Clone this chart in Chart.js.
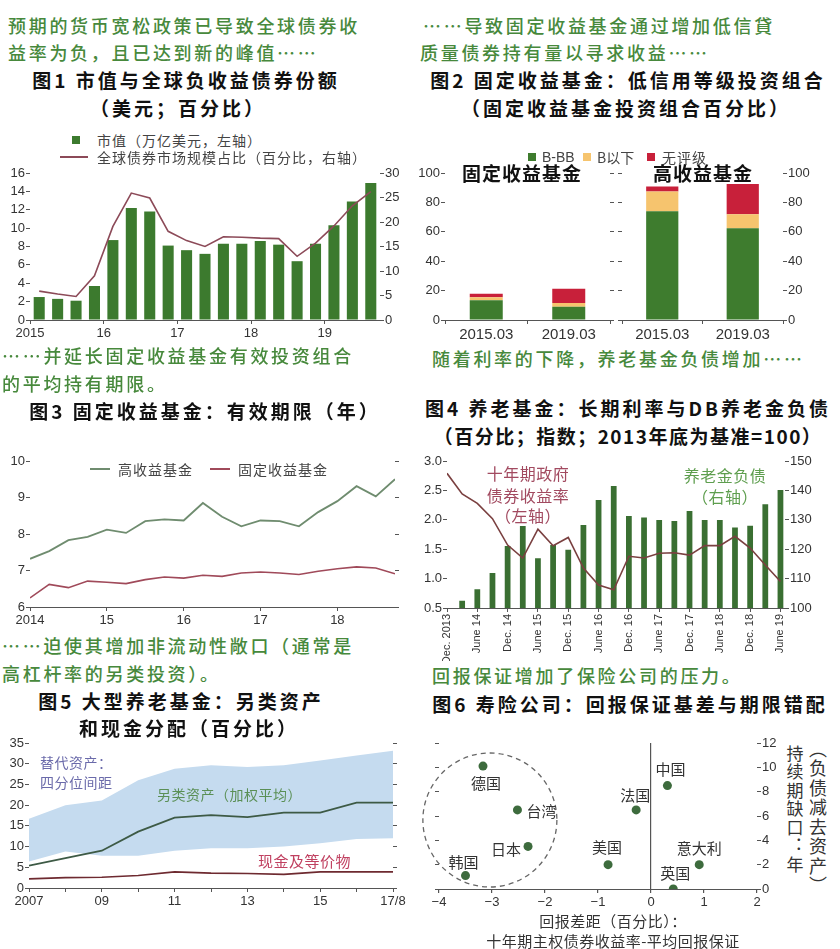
<!DOCTYPE html>
<html>
<head>
<meta charset="utf-8">
<script src="https://cdn.jsdelivr.net/npm/chart.js@4.4.1/dist/chart.umd.min.js"></script>
<style>
  body { margin: 0; background: #fff; width: 840px; height: 949px; position: relative; overflow: hidden;
         font-family: "Noto Sans CJK SC", sans-serif; }
  .t { position: absolute; white-space: nowrap; line-height: 1; transform: translateY(-50%); z-index: 2; }
  .t.c { transform: translate(-50%, -50%); }
  .g { color: #47893c; font-size: 18px; letter-spacing: 2.7px; font-weight: 500; }
  .h { color: #111; font-size: 19px; letter-spacing: 3px; font-weight: bold; }
  .l { color: #444; font-size: 14px; letter-spacing: 1px; }
  .n { color: #333; font-size: 15px; letter-spacing: 0.5px; }
  .v { writing-mode: vertical-rl; color: #333; font-size: 17px; letter-spacing: 1.5px; transform: translateX(-50%); }
  .sw { position: absolute; }
  canvas { position: absolute; z-index: 1; }
</style>
</head>
<body>
<script>
// ---- data ----
// fig 1: quarterly 2015Q1 - 2019Q3
const fig1Years = ['2015', '16', '17', '18', '19'];
const marketValue = [2.5, 2.3, 2.1, 3.7, 8.7, 12.2, 11.8, 8.1, 7.6, 7.2, 8.3, 8.3, 8.6, 8.2, 6.4, 8.3, 10.3, 12.9, 14.9];
const marketShare = [5.9, 5.3, 4.8, 9.0, 19.1, 25.9, 24.9, 18.1, 16.2, 15.0, 17.0, 16.9, 16.7, 16.6, 13.0, 15.7, 19.2, 23.3, 26.2];

// fig 2
const fundDates = ['2015.03', '2019.03'];
const fixedBBB = [13.5, 9.0];
const fixedBelowB = [2.0, 2.5];
const fixedNoRating = [2.3, 9.8];
const highBBB = [73.9, 62.5];
const highBelowB = [13.6, 9.5];
const highNoRating = [3.4, 20.5];

// fig 3: quarterly from 2014
const fig3Years = ['2014', '15', '16', '17', '18'];
const highYieldDur = [7.32, 7.53, 7.83, 7.92, 8.12, 8.03, 8.35, 8.40, 8.37, 8.85, 8.47, 8.21, 8.37, 8.35, 8.21, 8.60, 8.90, 9.31, 9.03, 9.50];
const fixedIncomeDur = [6.25, 6.62, 6.53, 6.71, 6.68, 6.64, 6.75, 6.82, 6.79, 6.87, 6.84, 6.93, 6.96, 6.93, 6.89, 6.98, 7.05, 7.10, 7.07, 6.91];

// fig 4: quarterly Dec 2013 - June 2019
const fig4Labels = ['Dec. 2013', 'June 14', 'Dec. 14', 'June 15', 'Dec. 15', 'June 16', 'Dec. 16',
                    'June 17', 'Dec. 17', 'June 18', 'Dec. 18', 'June 19'];
const pensionLiab = [100, 102.5, 106.4, 111.9, 121.1, 127.9, 116.9, 121.4, 119.8, 128.2, 136.7, 141.5,
                     131.3, 130.8, 129.9, 129.6, 133.0, 129.9, 129.9, 127.4, 128.0, 135.3, 140.1];
const govYield10y = [2.79, 2.44, 2.28, 2.02, 1.57, 1.35, 1.84, 1.56, 1.70, 1.18, 0.89, 0.81,
                     1.38, 1.35, 1.43, 1.44, 1.40, 1.56, 1.56, 1.72, 1.52, 1.23, 0.95];

// fig 5: annual 2007 - 2017/8
const fig5Ticks = ['2007', '09', '11', '13', '15', '17/8'];
const altUpper = [16.7, 20.0, 21.1, 26.0, 28.8, 29.6, 29.2, 29.6, 30.8, 32.0, 33.1];
const altLower = [6.4, 8.8, 7.8, 7.8, 9.0, 9.6, 9.6, 10.0, 10.8, 11.8, 12.0];
const altAvg = [5.4, 7.2, 9.0, 13.6, 17.0, 17.6, 17.1, 18.2, 18.2, 20.6, 20.6];
const cashEq = [2.2, 2.5, 2.6, 3.0, 3.9, 3.6, 3.5, 3.3, 3.9, 3.9, 3.9];

// fig 6
const countries = ['德国', '台湾', '日本', '韩国', '美国', '法国', '中国', '意大利', '英国'];
const returnGap = [-3.17, -2.52, -2.32, -3.50, -0.81, -0.28, 0.31, 0.91, 0.42];
const durationGap = [10.1, 6.5, 3.5, 1.1, 2.0, 6.5, 8.5, 2.0, 0.0];

// ---- page text ----
function put(str, x, y, cls, center, extra) {
  const d = document.createElement('div');
  d.className = 't ' + cls + (center ? ' c' : '');
  d.textContent = str;
  d.style.left = x + 'px';
  d.style.top = y + 'px';
  if (extra) Object.assign(d.style, extra);
  document.body.appendChild(d);
}
function swatch(x, y, w, h, color) {
  const d = document.createElement('div');
  d.className = 'sw';
  Object.assign(d.style, { left: x + 'px', top: y + 'px', width: w + 'px', height: h + 'px', background: color });
  document.body.appendChild(d);
}

put('预期的货币宽松政策已导致全球债券收', 8, 25, 'g');
put('益率为负，且已达到新的峰值……', 8, 52, 'g');
put('图1 市值与全球负收益债券份额', 186, 79, 'h', true);
put('（美元；百分比）', 178, 107, 'h', true);

put('……导致固定收益基金通过增加低信貸', 423, 25, 'g');
put('质量债券持有量以寻求收益……', 420, 52, 'g');
put('图2 固定收益基金：低信用等级投资组合', 628, 79, 'h', true);
put('（固定收益基金投资组合百分比）', 626, 107, 'h', true);

put('……并延长固定收益基金有效投资组合', 2, 355, 'g');
put('的平均持有期限。', 2, 383, 'g');
put('图3 固定收益基金：有效期限（年）', 205, 410, 'h', true);

put('随着利率的下降，养老基金负债增加……', 432, 358, 'g');
put('图4 养老基金：长期利率与DB养老金负债', 628, 407, 'h', true);
put('（百分比；指数；2013年底为基准=100）', 628, 435, 'h', true, { letterSpacing: '1.5px' });

put('……迫使其增加非流动性敞口（通常是', 2, 645, 'g');
put('高杠杆率的另类投资）。', 2, 673, 'g');
put('图5 大型养老基金：另类资产', 181, 700, 'h', true);
put('和现金分配（百分比）', 189, 727, 'h', true);

put('回报保证增加了保险公司的压力。', 432, 675, 'g');
put('图6 寿险公司：回报保证基差与期限错配', 630, 703, 'h', true);

// fig1 legend
swatch(72, 136, 8, 8, '#3c7a2e');
put('市值（万亿美元，左轴）', 97, 140, 'l');
swatch(60, 156, 28, 2, '#8c4a58');
put('全球债券市场规模占比（百分比，右轴）', 97, 157, 'l');

// fig2 legend + group names
swatch(528, 153, 8, 8, '#3e7c2e');
put('B-BB', 542, 157, 'l', false, { fontFamily: 'Liberation Sans', letterSpacing: '0' });
swatch(583, 153, 8, 8, '#f6c46e');
put('B以下', 597, 157, 'l', false, { letterSpacing: '0' });
swatch(647, 153, 8, 8, '#c8203a');
put('无评级', 662, 157, 'l');
put('固定收益基金', 522, 172, 'h', true, { letterSpacing: '1px' });
put('高收益基金', 703, 172, 'h', true, { letterSpacing: '1px' });

// fig3 legend
swatch(90, 468, 20, 1.5, '#6f8c6f');
put('高收益基金', 118, 469, 'l');
swatch(210, 468, 20, 1.5, '#a04a5a');
put('固定收益基金', 238, 469, 'l');

// fig4 notes
put('十年期政府', 528, 473, 'n', true, { color: '#a24a60', fontSize: '16px' });
put('债券收益率', 528, 495, 'n', true, { color: '#a24a60', fontSize: '16px' });
put('（左轴）', 528, 515, 'n', true, { color: '#a24a60', fontSize: '16px' });
put('养老金负债', 725, 475, 'n', true, { color: '#5e9e4e', fontSize: '16px' });
put('（右轴）', 725, 496, 'n', true, { color: '#5e9e4e', fontSize: '16px' });

// fig5 notes
put('替代资产：', 40, 762, 'n', false, { color: '#6a6aaa', fontSize: '14px' });
put('四分位间距', 40, 782, 'n', false, { color: '#6a6aaa', fontSize: '14px' });
put('另类资产（加权平均）', 157, 794, 'n', false, { color: '#5a8f55', fontSize: '14px' });
put('现金及等价物', 258, 860, 'n', false, { color: '#c04060', fontSize: '15px' });

// fig6 axis titles
put('回报差距（百分比）：', 613, 920, 'n', true);
put('十年期主权债券收益率-平均回报保证', 613, 940, 'n', true);
put('持续期缺口：年', 795, 745, 'v', false, { transform: 'translateX(-50%)' });
put('（负债减去资产）', 818, 740, 'v', false, { transform: 'translateX(-50%)', fontSize: '18px' });

// ---- charts ----
Chart.defaults.font.family = "'Liberation Sans Narrow', 'Liberation Sans', sans-serif";
Chart.defaults.font.size = 13;
Chart.defaults.color = '#333';
Chart.defaults.animation = false;
Chart.defaults.responsive = false;
Chart.defaults.plugins.legend.display = false;
Chart.defaults.plugins.tooltip.enabled = false;

const AX = '#555';

function mk(left, top, w, h) {
  const c = document.createElement('canvas');
  c.width = w; c.height = h;
  c.style.left = left + 'px'; c.style.top = top + 'px';
  document.body.appendChild(c);
  return c;
}

function yAxis(position, min, max, step, width, labels, cb) {
  const ticks = { stepSize: step, display: labels, padding: 1, autoSkip: false };
  if (cb) ticks.callback = cb;
  return {
    type: 'linear', position, min, max, ticks,
    grid: { drawOnChartArea: false, tickLength: 4, color: AX },
    border: { display: false },
    afterFit: s => { s.width = width; }
  };
}

function xLinear(min, max, tickVals, labelFn, height, extraTicks) {
  return {
    type: 'linear', min, max, offset: false,
    afterBuildTicks: s => { s.ticks = tickVals.map(v => ({ value: v })); },
    ticks: Object.assign({ callback: labelFn, autoSkip: false, maxRotation: 0, padding: 2 }, extraTicks || {}),
    grid: { drawOnChartArea: false, tickLength: 4, color: AX, offset: false },
    border: { display: true, color: AX },
    afterFit: s => { s.height = height; }
  };
}

// fig 1
new Chart(mk(0, 161, 410, 184), {
  type: 'bar',
  data: {
    datasets: [
      { type: 'line', data: marketShare.map((v, i) => ({ x: i + 0.5, y: v })), yAxisID: 'y2',
        borderColor: '#8c4a58', borderWidth: 1.6, pointRadius: 0, order: 0 },
      { data: marketValue.map((v, i) => ({ x: i + 0.5, y: v })), yAxisID: 'y',
        backgroundColor: '#3c7a2e', barPercentage: 0.6, categoryPercentage: 1, order: 1 }
    ]
  },
  options: {
    layout: { padding: { top: 12 } },
    scales: {
      x: xLinear(0, 19, [0, 4, 8, 12, 16], v => fig1Years[v / 4], 25),
      y: yAxis('left', 0, 16, 2, 30, true),
      y2: yAxis('right', 0, 30, 5, 30, true)
    }
  }
});

// fig 2 (two panels)
function fundChart(canvas, bbb, belowB, nr, leftW, rightW, leftLabels) {
  const yl = yAxis('left', 0, 100, 20, leftW, leftLabels);
  yl.stacked = true;
  const yr = yAxis('right', 0, 100, 20, rightW, !leftLabels);
  return new Chart(canvas, {
    type: 'bar',
    data: {
      labels: fundDates,
      datasets: [
        { data: bbb, backgroundColor: '#3e7c2e' },
        { data: belowB, backgroundColor: '#f6c46e' },
        { data: nr, backgroundColor: '#c8203a' }
      ]
    },
    options: {
      datasets: { bar: { barPercentage: 0.4, categoryPercentage: 1 } },
      layout: { padding: { top: 12 } },
      scales: {
        x: {
          stacked: true,
          ticks: { font: { family: 'Liberation Sans', size: 15 }, padding: 2 },
          grid: { drawOnChartArea: false, tickLength: 4, color: AX },
          border: { display: true, color: AX },
          afterFit: s => { s.height = 25; }
        },
        y: yl,
        y2: yr
      }
    }
  });
}
fundChart(mk(415, 161, 200, 184), fixedBBB, fixedBelowB, fixedNoRating, 30, 5, true);
fundChart(mk(612, 161, 215, 184), highBBB, highBelowB, highNoRating, 10, 44, false);

// fig 3
new Chart(mk(0, 449, 415, 183), {
  type: 'line',
  data: {
    datasets: [
      { data: highYieldDur.map((v, i) => ({ x: i, y: v })), borderColor: '#6f8c6f', borderWidth: 1.8, pointRadius: 0 },
      { data: fixedIncomeDur.map((v, i) => ({ x: i, y: v })), borderColor: '#a04a5a', borderWidth: 1.6, pointRadius: 0 }
    ]
  },
  options: {
    layout: { padding: { top: 12 } },
    scales: {
      x: xLinear(0, 19, [0, 4, 8, 12, 16], v => fig3Years[v / 4], 25),
      y: yAxis('left', 6, 10, 1, 30, true),
      y2: yAxis('right', 6, 10, 1, 20, false)
    }
  }
});

// fig 4
new Chart(mk(415, 449, 422, 212), {
  type: 'bar',
  data: {
    datasets: [
      { type: 'line', data: govYield10y.map((v, i) => ({ x: i, y: v })), yAxisID: 'y',
        borderColor: '#7a4040', borderWidth: 1.6, pointRadius: 0, order: 0 },
      { data: pensionLiab.map((v, i) => ({ x: i, y: v })), yAxisID: 'y2',
        backgroundColor: '#3a6f32', barPercentage: 0.38, categoryPercentage: 1, order: 1 }
    ]
  },
  options: {
    layout: { padding: { top: 12 } },
    scales: {
      x: xLinear(0, 22.3, fig4Labels.map((_, i) => i * 2), v => fig4Labels[v / 2], 53,
                 { minRotation: 90, maxRotation: 90, font: { size: 11 } }),
      y: yAxis('left', 0.5, 3.0, 0.5, 32, true, v => v.toFixed(1)),
      y2: yAxis('right', 100, 150, 10, 52, true)
    }
  }
});

// fig 5
new Chart(mk(0, 731, 415, 182), {
  type: 'line',
  data: {
    datasets: [
      { data: altUpper.map((v, i) => ({ x: i, y: v })), borderWidth: 0, pointRadius: 0,
        fill: '+1', backgroundColor: '#c5dbef', order: 2 },
      { data: altLower.map((v, i) => ({ x: i, y: v })), borderWidth: 0, pointRadius: 0, order: 2 },
      { data: altAvg.map((v, i) => ({ x: i, y: v })), borderColor: '#3d5a45', borderWidth: 1.8, pointRadius: 0, order: 0 },
      { data: cashEq.map((v, i) => ({ x: i, y: v })), borderColor: '#6e2a30', borderWidth: 1.6, pointRadius: 0, order: 0 }
    ]
  },
  options: {
    layout: { padding: { top: 12 } },
    scales: {
      x: xLinear(0, 10, altAvg.map((_, i) => i), v => (v % 2 === 0 ? fig5Ticks[v / 2] : ''), 25),
      y: yAxis('left', 0, 35, 5, 29, true),
      y2: yAxis('right', 0, 35, 5, 22, false)
    }
  }
});

// fig 6
const labelOffsets = [[3, 17], [24, 1], [-22, 3], [-2, -13], [-1, -17], [-1, -15], [3, -16], [0, -16], [2, -16]];
const circleCenter = [-3.04, 5.67];
const scatterDecor = {
  id: 'scatterDecor',
  afterDatasetsDraw(chart) {
    const { ctx, scales: { x, y } } = chart;
    ctx.save();
    ctx.setLineDash([5, 4]);
    ctx.strokeStyle = '#666';
    ctx.lineWidth = 1.3;
    ctx.beginPath();
    ctx.arc(x.getPixelForValue(circleCenter[0]), y.getPixelForValue(circleCenter[1]), 67, 0, Math.PI * 2);
    ctx.stroke();
    ctx.setLineDash([]);
    ctx.font = '15px "Noto Sans CJK SC"';
    ctx.fillStyle = '#333';
    ctx.textAlign = 'center';
    ctx.textBaseline = 'middle';
    chart.getDatasetMeta(0).data.forEach((pt, i) => {
      const [dx, dy] = labelOffsets[i];
      ctx.fillText(countries[i], pt.x + dx, pt.y + dy);
    });
    ctx.restore();
  }
};
new Chart(mk(420, 731, 360, 183), {
  type: 'scatter',
  data: {
    datasets: [{
      data: returnGap.map((v, i) => ({ x: v, y: durationGap[i] })),
      backgroundColor: '#3d6b3d', borderWidth: 0, pointRadius: 4.5
    }]
  },
  options: {
    layout: { padding: { top: 12 } },
    scales: {
      x: {
        type: 'linear', min: -4, max: 2,
        ticks: { stepSize: 1, padding: 2, callback: v => (v < 0 ? '\u2212' + Math.abs(v) : String(v)) },
        grid: { drawOnChartArea: true, color: c => (c.tick && c.tick.value === 0 ? '#555' : 'rgba(0,0,0,0)'),
                tickColor: AX, tickLength: 4, lineWidth: 1.2 },
        border: { display: true, color: AX },
        afterFit: s => { s.height = 25; }
      },
      yl: yAxis('left', 0, 12, 2, 19, false),
      y: yAxis('right', 0, 12, 2, 23, true)
    }
  },
  plugins: [scatterDecor]
});
</script>
</body>
</html>
